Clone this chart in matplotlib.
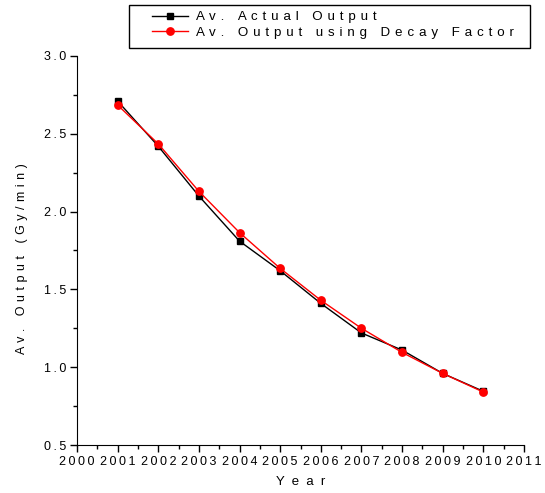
#!/usr/bin/env python3

import matplotlib
matplotlib.use("Agg")
import matplotlib.pyplot as pyplot
from matplotlib.patches import Rectangle
from matplotlib.ticker import MultipleLocator, FuncFormatter

# Average output per year
years = [2001, 2002, 2003, 2004, 2005, 2006, 2007, 2008, 2009, 2010]
actual_output = [2.71, 2.42, 2.10, 1.81, 1.62, 1.41, 1.22, 1.11, 0.96, 0.845]
decay_output = [2.685, 2.435, 2.13, 1.865, 1.635, 1.43, 1.25, 1.095, 0.96, 0.84]

LABEL_ACTUAL = "Av. Actual Output"
LABEL_DECAY = "Av. Output using Decay Factor"
XLABEL = "Year"
YLABEL = "Av. Output (Gy/min)"

FONT = "Liberation Sans"
TICK_GAP = "\u2009"
TEXT_GAP = " \u200a"

W_PX, H_PX = 545, 493

# Origin-style wide letter spacing, done with narrow spaces
def spaced(text, gap=TEXT_GAP):
	return gap.join(text)

# pixel box (from top-left) -> figure fraction rect
def px_rect(x0, y0, x1, y1):
	return (x0 / W_PX, 1 - y1 / H_PX, (x1 - x0) / W_PX, (y1 - y0) / H_PX)

def main():
	pyplot.rcParams["font.family"] = [FONT, "DejaVu Sans"]
	fig = pyplot.figure(figsize=(W_PX / 100, H_PX / 100), dpi=100)
	ax = fig.add_axes(px_rect(77, 56, 524, 445))

	ax.plot(years, actual_output, color="black", lw=1.0, marker="s",
	        ms=4.3, label=spaced(LABEL_ACTUAL), zorder=3)
	ax.plot(years, decay_output, color="red", lw=1.0, marker="o",
	        ms=5.3, label=spaced(LABEL_DECAY), zorder=4)

	ax.set_xlim(2000, 2011)
	ax.set_ylim(0.5, 3.0)
	ax.xaxis.set_major_locator(MultipleLocator(1))
	ax.xaxis.set_minor_locator(MultipleLocator(0.5))
	ax.yaxis.set_major_locator(MultipleLocator(0.5))
	ax.yaxis.set_minor_locator(MultipleLocator(0.25))
	ax.xaxis.set_major_formatter(FuncFormatter(lambda v, p: spaced("%d" % v, TICK_GAP)))
	ax.yaxis.set_major_formatter(FuncFormatter(lambda v, p: spaced("%.1f" % v, TICK_GAP)))

	for side in ("top", "right"):
		ax.spines[side].set_visible(False)
	ax.tick_params(which="major", direction="out", length=5, width=1,
	               labelsize=9, pad=3)
	ax.tick_params(which="minor", direction="out", length=3, width=1)

	ax.set_xlabel(spaced(XLABEL, "  "), fontsize=9.5, labelpad=6)
	ax.set_ylabel(spaced(YLABEL), fontsize=9)
	ax.yaxis.set_label_coords(-0.11, 0.48)

	# legend without frame; the box is drawn separately so the left
	# padding can be wider than the top/bottom one
	legend = ax.legend(loc="upper left",
	                   bbox_to_anchor=(152 / W_PX, 1 - 11 / H_PX),
	                   bbox_transform=fig.transFigure,
	                   frameon=False, fontsize=9.65,
	                   handlelength=2.65, handletextpad=0.6,
	                   borderpad=0, labelspacing=0.22,
	                   borderaxespad=0)
	box = px_rect(129, 5, 530, 48)
	fig.add_artist(Rectangle(box[:2], box[2], box[3],
	                         transform=fig.transFigure, fill=False,
	                         edgecolor="black", lw=1.0))

	fig.savefig("out.png", dpi=100)

if (__name__ == "__main__"):
	main()
